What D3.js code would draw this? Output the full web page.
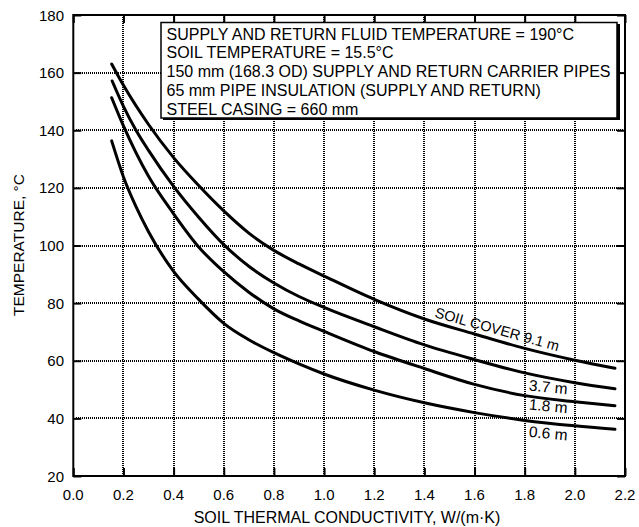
<!DOCTYPE html>
<html>
<head>
<meta charset="utf-8">
<script src="https://cdn.jsdelivr.net/npm/d3@7"></script>
<style>
  body { margin: 0; background: #fff; }
  svg text { font-family: "Liberation Sans", Arial, sans-serif; fill: #000; }
</style>
</head>
<body>
<div id="chart"></div>
<script>
// soil thermal conductivity (W/(m K)) vs temperature (C), one pair per soil cover depth
const cover91_x = [0.153, 0.2, 0.3, 0.4, 0.5, 0.6, 0.7, 0.8, 0.9, 1.0, 1.2, 1.4, 1.6, 1.8, 2.0, 2.16];
const cover91_y = [163.0, 155.6, 142.0, 130.5, 120.8, 112.0, 104.3, 98.3, 93.6, 89.4, 81.3, 74.5, 69.3, 64.3, 60.2, 57.4];

const cover37_x = [0.155, 0.2, 0.25, 0.3, 0.4, 0.5, 0.6, 0.7, 0.8, 0.9, 1.0, 1.2, 1.4, 1.6, 1.8, 2.0, 2.16];
const cover37_y = [157.1, 148.3, 140.0, 133.0, 120.5, 109.8, 100.3, 92.8, 87.0, 82.3, 78.5, 71.8, 65.5, 60.4, 55.8, 52.4, 50.3];

const cover18_x = [0.153, 0.2, 0.3, 0.4, 0.5, 0.6, 0.7, 0.8, 0.9, 1.0, 1.2, 1.4, 1.6, 1.8, 2.0, 2.16];
const cover18_y = [151.3, 141.5, 124.0, 111.0, 99.5, 90.9, 83.8, 78.0, 73.8, 70.2, 63.2, 57.3, 51.8, 47.9, 45.8, 44.4];

const cover06_x = [0.153, 0.2, 0.25, 0.3, 0.4, 0.5, 0.6, 0.7, 0.8, 0.9, 1.0, 1.2, 1.4, 1.6, 1.8, 2.0, 2.16];
const cover06_y = [136.3, 123.8, 113.5, 104.8, 91.0, 81.3, 73.0, 67.3, 62.8, 58.9, 55.4, 49.8, 45.4, 42.0, 39.3, 37.4, 36.2];

const xTicks = [0.0, 0.2, 0.4, 0.6, 0.8, 1.0, 1.2, 1.4, 1.6, 1.8, 2.0, 2.2];
const yTicks = [20, 40, 60, 80, 100, 120, 140, 160, 180];

const noteLines = [
    "SUPPLY AND RETURN FLUID TEMPERATURE = 190\u00B0C",
    "SOIL TEMPERATURE = 15.5\u00B0C",
    "150 mm (168.3 OD) SUPPLY AND RETURN CARRIER PIPES",
    "65 mm PIPE INSULATION (SUPPLY AND RETURN)",
    "STEEL CASING = 660 mm"
];

const W = 639, H = 527;
const PLOT = { left: 73.3, right: 625, top: 15, bottom: 476 };
const DOT_STEP = 2;

let svg = d3.select("#chart").append("svg")
    .attr("width", W)
    .attr("height", H);

let x = d3.scaleLinear().domain([0, 2.2]).range([PLOT.left, PLOT.right]);
let y = d3.scaleLinear().domain([20, 180]).range([PLOT.bottom, PLOT.top]);

// dotted grid, built from 1px dots so it stays sharp
let grid = svg.append("g").attr("shape-rendering", "crispEdges");
xTicks.slice(1, -1).forEach(function (d) {
    const gx = Math.round(x(d)) - 1;
    grid.append("g").selectAll("rect")
        .data(d3.range(Math.ceil(PLOT.top) + 2, PLOT.bottom - 1, DOT_STEP))
        .enter().append("rect")
        .attr("x", gx).attr("y", v => v)
        .attr("width", 1.5).attr("height", 1)
        .attr("fill", "#000");
});
yTicks.slice(1, -1).forEach(function (d) {
    const gy = Math.round(y(d)) - 1;
    grid.append("g").selectAll("rect")
        .data(d3.range(Math.ceil(PLOT.left) + 2, PLOT.right - 1, DOT_STEP))
        .enter().append("rect")
        .attr("x", v => v).attr("y", gy)
        .attr("width", 1).attr("height", 1.5)
        .attr("fill", "#000");
});

// axes, ticks pointing inward on all four sides
const fmtX = d3.format(".1f");
let xAxis = svg.append("g")
    .attr("transform", "translate(0," + PLOT.bottom + ")")
    .call(d3.axisTop(x).tickValues(xTicks).tickFormat("").tickSizeInner(8).tickSizeOuter(0));
let xAxisTop = svg.append("g")
    .attr("transform", "translate(0," + PLOT.top + ")")
    .call(d3.axisBottom(x).tickValues(xTicks).tickFormat("").tickSizeInner(8).tickSizeOuter(0));
let yAxis = svg.append("g")
    .attr("transform", "translate(" + PLOT.left + ",0)")
    .call(d3.axisRight(y).tickValues(yTicks).tickFormat("").tickSizeInner(8).tickSizeOuter(0));
let yAxisRight = svg.append("g")
    .attr("transform", "translate(" + PLOT.right + ",0)")
    .call(d3.axisLeft(y).tickValues(yTicks).tickFormat("").tickSizeInner(8).tickSizeOuter(0));
[xAxis, xAxisTop, yAxis, yAxisRight].forEach(function (a) {
    a.select(".domain").remove();
    a.selectAll(".tick line").attr("stroke", "#000").attr("stroke-width", 2);
});

// tick labels
svg.append("g").selectAll("text")
    .data(xTicks)
    .enter().append("text")
    .attr("x", d => x(d))
    .attr("y", 500)
    .attr("text-anchor", "middle")
    .attr("font-size", 15)
    .text(d => fmtX(d));
svg.append("g").selectAll("text")
    .data(yTicks)
    .enter().append("text")
    .attr("x", 64)
    .attr("y", d => y(d) + 5.5)
    .attr("text-anchor", "end")
    .attr("font-size", 15)
    .text(d => d);

// frame
svg.append("rect")
    .attr("x", PLOT.left).attr("y", PLOT.top)
    .attr("width", PLOT.right - PLOT.left).attr("height", PLOT.bottom - PLOT.top)
    .attr("fill", "none").attr("stroke", "#000").attr("stroke-width", 2);

// axis titles
svg.append("text")
    .attr("x", 347)
    .attr("y", 523)
    .attr("text-anchor", "middle")
    .attr("font-size", 16)
    .text("SOIL THERMAL CONDUCTIVITY, W/(m\u00B7K)");
svg.append("text")
    .attr("transform", "translate(23.5,245) rotate(-90)")
    .attr("text-anchor", "middle")
    .attr("font-size", 15.5)
    .text("TEMPERATURE, \u00B0C");

// curves
const series = [
    { xs: cover91_x, ys: cover91_y },
    { xs: cover37_x, ys: cover37_y },
    { xs: cover18_x, ys: cover18_y },
    { xs: cover06_x, ys: cover06_y }
];
let line = d3.line()
    .x(d => x(d[0]))
    .y(d => y(d[1]))
    .curve(d3.curveMonotoneX);
svg.append("g").selectAll("path")
    .data(series)
    .enter().append("path")
    .attr("d", s => line(d3.zip(s.xs, s.ys)))
    .attr("fill", "none")
    .attr("stroke", "#000")
    .attr("stroke-width", 3)
    .attr("stroke-linecap", "round");

// curve labels
svg.append("text")
    .attr("transform", "translate(" + x(1.438) + "," + y(75.2) + ") rotate(15.5)")
    .attr("font-size", 14.5)
    .text("SOIL COVER 9.1 m");
const curveLabels = [
    { t: "3.7 m", v: 49.7 },
    { t: "1.8 m", v: 43.1 },
    { t: "0.6 m", v: 33.6 }
];
svg.append("g").selectAll("text")
    .data(curveLabels)
    .enter().append("text")
    .attr("transform", d => "translate(" + x(1.815) + "," + y(d.v) + ") rotate(5.5)")
    .attr("font-size", 15.5)
    .text(d => d.t);

// note box
let note = svg.append("g");
note.append("rect")
    .attr("x", 163).attr("y", 24)
    .attr("width", 457).attr("height", 96)
    .attr("fill", "#000");
note.append("rect")
    .attr("x", 161).attr("y", 22.5)
    .attr("width", 456).attr("height", 95.5)
    .attr("fill", "#fff").attr("stroke", "#000").attr("stroke-width", 1.5);
note.selectAll("text")
    .data(noteLines)
    .enter().append("text")
    .attr("x", 166.5)
    .attr("y", (d, i) => 39.5 + i * 18.8)
    .attr("font-size", 16)
    .text(d => d);
</script>
</body>
</html>
